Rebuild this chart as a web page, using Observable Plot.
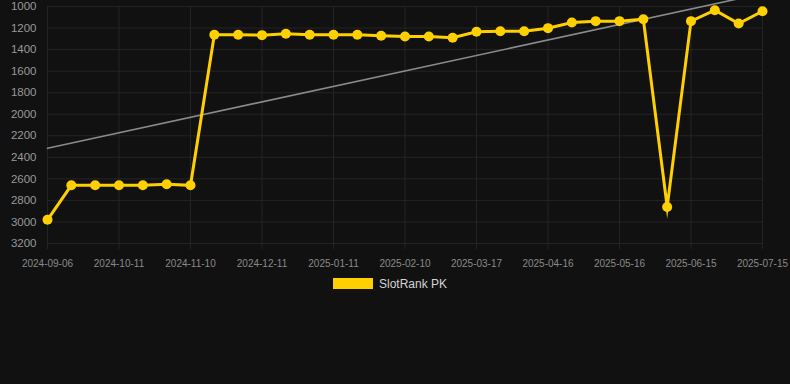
<!DOCTYPE html>
<html><head><meta charset="utf-8">
<script src="https://cdn.jsdelivr.net/npm/d3@7"></script>
<script src="https://cdn.jsdelivr.net/npm/@observablehq/plot@0.6"></script>
<style>
html,body{margin:0;padding:0;background:#111111;}
#wrap{position:relative;width:790px;height:384px;background:#111111;}
#legend{position:absolute;left:333px;top:278px;height:11px;display:flex;align-items:center;font:12px "Liberation Sans",Arial,sans-serif;color:#d4d4d4;white-space:nowrap;}
#legend .sw{display:inline-block;width:40px;height:11px;background:#ffd000;margin-right:6px;}
</style></head>
<body><div id="wrap"><div id="chart"></div><div id="legend"><span class="sw"></span><span id="lname"></span></div></div>
<script>
const seriesName = "SlotRank PK";
const dates = [
  "2024-09-06","2024-09-18","2024-09-29","2024-10-11","2024-10-21","2024-10-31",
  "2024-11-10","2024-11-20","2024-12-01","2024-12-11","2024-12-21","2025-01-01",
  "2025-01-11","2025-01-21","2025-01-31","2025-02-10","2025-02-21","2025-03-06",
  "2025-03-17","2025-03-27","2025-04-06","2025-04-16","2025-04-26","2025-05-06",
  "2025-05-16","2025-05-26","2025-06-05","2025-06-15","2025-06-25","2025-07-05",
  "2025-07-15"
];
const ranks = [
  2980, 2660, 2660, 2660, 2660, 2650,
  2660, 1262, 1262, 1266, 1253, 1262,
  1262, 1262, 1272, 1278, 1278, 1290,
  1235, 1229, 1229, 1201, 1148, 1136,
  1136, 1118, 2861, 1136, 1034, 1158,
  1044
];
const yTicks = [1000, 1200, 1400, 1600, 1800, 2000, 2200, 2400, 2600, 2800, 3000, 3200];
const xTickLabels = ["2024-09-06","2024-10-11","2024-11-10","2024-12-11","2025-01-11","2025-02-10","2025-03-17","2025-04-16","2025-05-16","2025-06-15","2025-07-15"];

const data = ranks.map((r, i) => ({i, date: dates[i], rank: r}));
const tickIdx = xTickLabels.map(l => dates.indexOf(l));
const gridColor = "#242424";
const yellow = "#ffd000";

const chart = Plot.plot({
  width: 790, height: 270,
  marginTop: 6, marginBottom: 27, marginLeft: 47, marginRight: 28,
  style: {background: "transparent", color: "#8c8c8c", fontFamily: "'Liberation Sans', Arial, sans-serif", overflow: "visible"},
  x: {type: "linear", domain: [0, dates.length - 1]},
  y: {domain: [1000, 3200], reverse: true},
  marks: [
    Plot.gridY(yTicks, {stroke: gridColor, strokeOpacity: 1}),
    Plot.gridX(tickIdx, {stroke: gridColor, strokeOpacity: 1}),
    Plot.axisY(yTicks, {tickSize: 0, tickPadding: 11, fontSize: 11.5, fill: "#999999", label: null, tickFormat: d => String(d)}),
    Plot.axisX(tickIdx, {tickSize: 6, tickPadding: 10, stroke: gridColor, strokeOpacity: 1, fontSize: 10, fill: "#8a8a8a", label: null, tickFormat: i => dates[i]}),
    Plot.linearRegressionY(data, {x: "i", y: "rank", stroke: "#8a8a8a", strokeWidth: 1.6, ci: 0}),
    Plot.line(data, {x: "i", y: "rank", stroke: yellow, strokeWidth: 3, strokeLinejoin: "miter", strokeMiterlimit: 10}),
    Plot.dot(data, {x: "i", y: "rank", r: 5, fill: yellow, stroke: "none"})
  ]
});
document.getElementById("chart").appendChild(chart);
document.getElementById("lname").textContent = seriesName;
</script>
</body></html>
